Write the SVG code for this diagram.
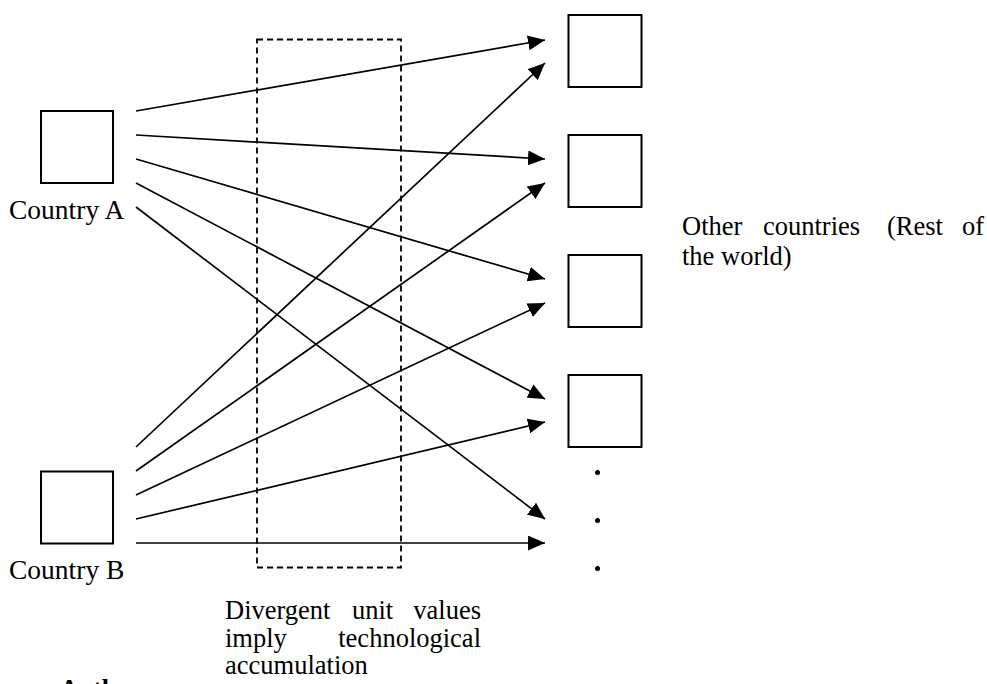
<svg xmlns="http://www.w3.org/2000/svg" width="987" height="684" viewBox="0 0 987 684">
<style>
.box{fill:#fff;stroke:#000;stroke-width:2}
.lbl{font-family:"Liberation Serif","Times New Roman",serif;font-size:26.5px;fill:#000}
.big{font-size:27.5px}
.conn line{stroke:#000;stroke-width:1.7;marker-end:url(#ah)}
.dot{fill:#000}
</style>
<defs>
<marker id="ah" markerUnits="userSpaceOnUse" markerWidth="17" markerHeight="15" refX="17" refY="7.5" orient="auto">
<path d="M0,0 L17,7.5 L0,15 z" fill="#000"/>
</marker>
</defs>
<rect width="987" height="684" fill="#fff"/>
<g id="tech-box">
<rect x="257" y="39.5" width="144" height="528" fill="none" stroke="#000" stroke-width="1.8" stroke-dasharray="6,4"/>
</g>
<g id="country-a">
<rect class="box" x="41" y="111" width="72" height="72"/>
<text class="lbl big" x="9" y="219">Country A</text>
</g>
<g id="country-b">
<rect class="box" x="41" y="471.5" width="72" height="72"/>
<text class="lbl big" x="9" y="579">Country B</text>
</g>
<g id="other-1"><rect class="box" x="568.5" y="15" width="73" height="72"/></g>
<g id="other-2"><rect class="box" x="568.5" y="135" width="73" height="72"/></g>
<g id="other-3"><rect class="box" x="568.5" y="255" width="73" height="72"/></g>
<g id="other-4"><rect class="box" x="568.5" y="375" width="73" height="72"/></g>
<g id="ellipsis">
<circle class="dot" cx="597.5" cy="472.5" r="2.5"/>
<circle class="dot" cx="597.5" cy="520.5" r="2.5"/>
<circle class="dot" cx="597.5" cy="568.5" r="2.5"/>
</g>
<g id="other-label" class="lbl">
<text x="682" y="235">Other</text>
<text x="763" y="235">countries</text>
<text x="887" y="235">(Rest</text>
<text x="984" y="235" text-anchor="end">of</text>
<text x="682" y="265">the world)</text>
</g>
<g id="tech-label" class="lbl">
<text x="225" y="619">Divergent</text>
<text x="352" y="619">unit</text>
<text x="481" y="619" text-anchor="end">values</text>
<text x="225" y="647">imply</text>
<text x="481" y="647" text-anchor="end">technological</text>
<text x="225" y="674">accumulation</text>
</g>
<g id="connectors" class="conn">
<line x1="136" y1="111" x2="545" y2="40"/>
<line x1="136" y1="135" x2="545" y2="159"/>
<line x1="136" y1="159" x2="545" y2="279"/>
<line x1="136" y1="183" x2="545" y2="399"/>
<line x1="136" y1="207" x2="545" y2="519"/>
<line x1="136" y1="447" x2="545" y2="63"/>
<line x1="136" y1="471" x2="545" y2="183"/>
<line x1="136" y1="495" x2="545" y2="303"/>
<line x1="136" y1="519" x2="545" y2="422"/>
<line x1="136" y1="543" x2="545" y2="543"/>
</g>
<text x="-30" y="697" style="font-family:'Liberation Serif','Times New Roman',serif;font-size:26px;font-weight:bold">Source: Author</text>
</svg>
